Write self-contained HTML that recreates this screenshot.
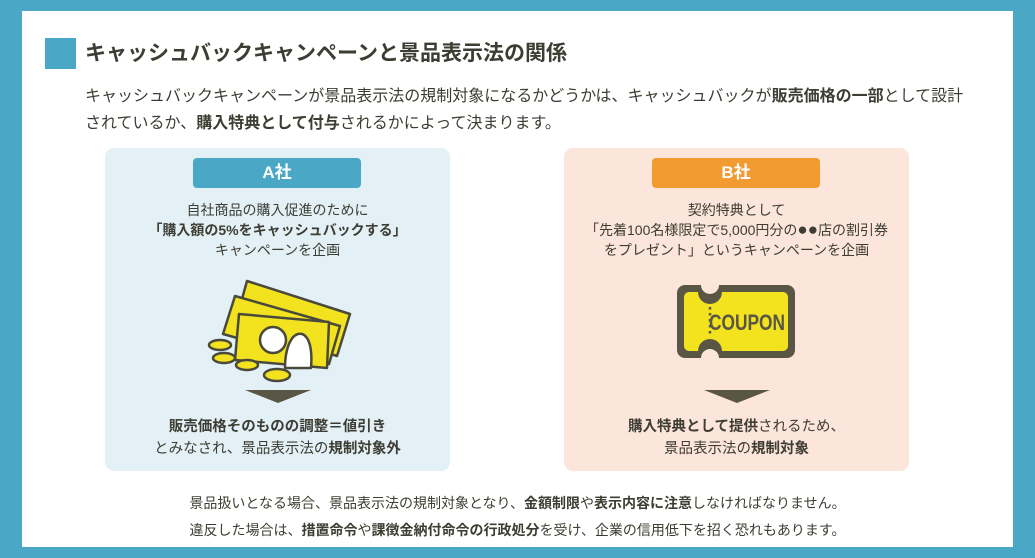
<!DOCTYPE html>
<html><head><meta charset="utf-8"><style>
body{margin:0;width:1035px;height:558px;background:#4aa8c6;position:relative;overflow:hidden;font-family:"Liberation Sans","Noto Sans CJK JP",sans-serif;color:#3d3d33}
.in{position:absolute;left:22px;top:11px;width:991px;height:536px;background:#fff}
.a{position:absolute}
.t{white-space:nowrap}
b{font-weight:bold}
.panel{position:absolute;top:148px;width:345px;height:323px;border-radius:9px}
.lab{position:absolute;left:88px;top:10px;width:168px;height:30px;border-radius:4px;color:#fff;font-weight:bold;font-size:17px;line-height:30px;text-align:center}
.c{position:absolute;left:0;width:345px;text-align:center;font-size:14px;line-height:20px}
.tri{position:absolute;left:140px;top:242px;width:0;height:0;border-left:33px solid transparent;border-right:33px solid transparent;border-top:13px solid #5a5646}
.bt{position:absolute;left:0;top:268px;width:345px;text-align:center;font-size:14.5px;line-height:22px}
.dot{font-size:17px;line-height:14px}
</style></head><body>
<div class="in"></div>
<div class="a" style="left:45px;top:38px;width:31px;height:31px;background:#4aa8c6"></div>
<div class="a t" style="left:85px;top:38px;font-size:21px;line-height:31px;font-weight:bold">キャッシュバックキャンペーンと景品表示法の関係</div>
<div class="a t" style="left:85px;top:83px;font-size:16px;line-height:27px">キャッシュバックキャンペーンが景品表示法の規制対象になるかどうかは、キャッシュバックが<b>販売価格の一部</b>として設計<br>されているか、<b>購入特典として付与</b>されるかによって決まります。</div>

<div class="panel" style="left:105px;background:#e3f0f6">
<div class="lab" style="background:#4aa8c6">A社</div>
<div class="c" style="top:52px">自社商品の購入促進のために<br><b>「購入額の5%をキャッシュバックする」</b><br>キャンペーンを企画</div>
<svg class="a" style="left:100px;top:128px" width="150" height="110" viewBox="0 0 150 110">
<g stroke="#4a4a3c" stroke-width="2.5" stroke-linejoin="round">
<polygon points="42,5 145,38 132,80 30,48" fill="#f3e21e"/>
<polygon points="30,20 135,50 124,88 18,58" fill="#f3e21e"/>
<polygon points="34,38 124,46 122,92 30,84" fill="#f3e21e"/>
<circle cx="68" cy="64" r="13" fill="#fff"/>
<path d="M80,92 C80,72 86,60 93,58 C102,56 108,68 106,92 Z" fill="#fff"/>
<ellipse cx="15" cy="69" rx="11" ry="5" fill="#f3e21e"/>
<ellipse cx="19" cy="82" rx="11" ry="5" fill="#f3e21e"/>
<ellipse cx="42" cy="89" rx="11" ry="5" fill="#f3e21e"/>
<ellipse cx="72" cy="99" rx="13" ry="6" fill="#f3e21e"/>
</g></svg>
<div class="tri"></div>
<div class="bt"><b>販売価格そのものの調整＝値引き</b><br>とみなされ、景品表示法の<b>規制対象外</b></div>
</div>

<div class="panel" style="left:564px;background:#fce5da">
<div class="lab" style="background:#f29b30">B社</div>
<div class="c" style="top:52px">契約特典として<br>「先着100名様限定で5,000円分の<span class="dot">●●</span>店の割引券<br>をプレゼント」というキャンペーンを企画</div>
<svg class="a" style="left:113px;top:135px" width="120" height="77" viewBox="0 0 120 77">
<path d="M8,2 H24 A9,9 0 0 0 42,2 H110 A8,8 0 0 1 118,10 V67 A8,8 0 0 1 110,75 H42 A9,9 0 0 0 24,75 H8 A8,8 0 0 1 0,67 V10 A8,8 0 0 1 8,2 Z" fill="#5a5646"/>
<path d="M12,9 H21 A12,12 0 0 0 45,9 H106 A5,5 0 0 1 111,14 V63 A5,5 0 0 1 106,68 H45 A12,12 0 0 0 21,68 H12 A5,5 0 0 1 7,63 V14 A5,5 0 0 1 12,9 Z" fill="#f3e21e"/>
<line x1="33" y1="24" x2="33" y2="54" stroke="#5a5646" stroke-width="2.5" stroke-dasharray="2.5,3.5"/>
<text x="70" y="47" text-anchor="middle" font-family="Liberation Sans,sans-serif" font-size="22" fill="#5a5646" textLength="76" lengthAdjust="spacingAndGlyphs" font-weight="bold">COUPON</text>
</svg>
<div class="tri"></div>
<div class="bt"><b>購入特典として提供</b>されるため、<br>景品表示法の<b>規制対象</b></div>
</div>

<div class="a t" style="left:0;width:1035px;top:490px;text-align:center;font-size:14px;line-height:27px">景品扱いとなる場合、景品表示法の規制対象となり、<b>金額制限</b>や<b>表示内容に注意</b>しなければなりません。<br>違反した場合は、<b>措置命令</b>や<b>課徴金納付命令の行政処分</b>を受け、企業の信用低下を招く恐れもあります。</div>
</body></html>
